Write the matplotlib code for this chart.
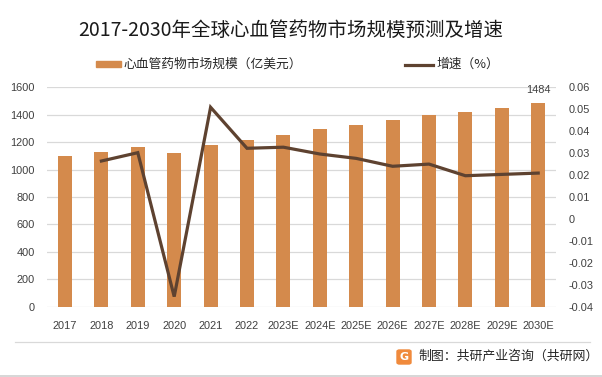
import matplotlib
matplotlib.use("Agg")
import matplotlib.pyplot as plt
from matplotlib.patches import Rectangle, FancyBboxPatch
from matplotlib.lines import Line2D
import numpy as np

plt.rcParams['font.family'] = ['Noto Sans CJK SC', 'DejaVu Sans']

years = ["2017", "2018", "2019", "2020", "2021", "2022", "2023E", "2024E",
         "2025E", "2026E", "2027E", "2028E", "2029E", "2030E"]
market = [1099, 1130, 1167, 1123, 1181, 1216, 1252, 1296, 1325, 1362, 1400, 1420, 1449, 1484]
growth = [None, 0.0264, 0.0302, -0.0354, 0.0509, 0.0322, 0.0327, 0.0296, 0.0276,
          0.0240, 0.0250, 0.0197, 0.0203, 0.0209]
left_ticks = [0, 200, 400, 600, 800, 1000, 1200, 1400, 1600]
right_ticks = [-0.04, -0.03, -0.02, -0.01, 0, 0.01, 0.02, 0.03, 0.04, 0.05, 0.06]
right_labels = ["-0.04", "-0.03", "-0.02", "-0.01", "0", "0.01", "0.02", "0.03", "0.04", "0.05", "0.06"]

bar_color = "#D48A4C"
line_color = "#5E4230"
tick_color = "#404040"
W, H = 602, 377
tick_size = 7.9

fig = plt.figure(figsize=(W / 100, H / 100), dpi=100)
ax = fig.add_axes([46.8 / W, 1 - 306.7 / H, (556.4 - 46.8) / W, (306.7 - 87.3) / H])
x = np.arange(len(years))
ax.bar(x, market, width=0.39, color=bar_color, zorder=3)
ax.set_xlim(-0.5, len(years) - 0.5)
ax.set_ylim(0, 1600)
ax.set_yticks(left_ticks)
ax.set_yticklabels([str(t) for t in left_ticks])
ax.set_xticks(x)
ax.set_xticklabels(years)
ax.grid(axis='y', color='#d9d9d9', linewidth=0.9, zorder=0)
for s in ax.spines.values():
    s.set_visible(False)
ax.tick_params(axis='both', length=0, colors=tick_color, labelsize=tick_size)
ax.tick_params(axis='y', pad=8.5)
ax.tick_params(axis='x', pad=10)
for lab in ax.get_xticklabels() + ax.get_yticklabels():
    lab.set_family(['Liberation Sans', 'DejaVu Sans'])

ax.annotate(str(market[-1]), (x[-1], market[-1]), xytext=(0, 6), textcoords='offset points',
            ha='center', va='bottom', fontsize=tick_size, color=tick_color, family=['Liberation Sans'])

ax2 = ax.twinx()
gx = [i for i, g in enumerate(growth) if g is not None]
gy = [g for g in growth if g is not None]
ax2.plot(gx, gy, color=line_color, linewidth=2.3, solid_joinstyle='miter', zorder=4)
ax2.set_ylim(-0.04, 0.06)
ax2.set_yticks(right_ticks)
ax2.set_yticklabels(right_labels)
for s in ax2.spines.values():
    s.set_visible(False)
ax2.tick_params(axis='y', length=0, colors=tick_color, labelsize=tick_size, pad=8.5)
for lab in ax2.get_yticklabels():
    lab.set_family(['Liberation Sans', 'DejaVu Sans'])

# Title
fig.text(291 / W, 1 - 30 / H, "2017-2030年全球心血管药物市场规模预测及增速", ha='center', va='center',
         fontsize=14, color='#1a1a1a')

# Legend
fig.patches.append(Rectangle((96 / W, 1 - 66.5 / H), 25 / W, 5 / H, transform=fig.transFigure,
                             color=bar_color))
fig.text(123 / W, 1 - 64.5 / H, "心血管药物市场规模（亿美元）", ha='left', va='center', fontsize=9.2,
         color='#262626')
fig.lines.append(Line2D([405 / W, 433 / W], [1 - 65 / H, 1 - 65 / H], transform=fig.transFigure,
                        color=line_color, linewidth=2.3))
fig.text(436 / W, 1 - 64.5 / H, "增速（%）", ha='left', va='center', fontsize=9.2, color='#262626')

# Footer
fig.lines.append(Line2D([15 / W, 590 / W], [1 - 342 / H, 1 - 342 / H], transform=fig.transFigure,
                        color='#d9d9d9', linewidth=0.9))
fig.lines.append(Line2D([0, 1], [1 - 375.5 / H, 1 - 375.5 / H], transform=fig.transFigure,
                        color='#cfcfcf', linewidth=1.2))
fig.patches.append(FancyBboxPatch((397 / W, 1 - 364 / H), 14 / W, 14 / H, transform=fig.transFigure,
                                  boxstyle='round,pad=0,rounding_size=0.004', color='#F08A3C'))
fig.text(404 / W, 1 - 357 / H, "G", ha='center', va='center', fontsize=8, color='white',
         fontweight='bold', family=['DejaVu Sans'])
fig.text(418 / W, 1 - 356.5 / H, "制图：共研产业咨询（共研网）", ha='left', va='center', fontsize=9.3,
         color='#262626')

fig.savefig("out.png", dpi=100)
